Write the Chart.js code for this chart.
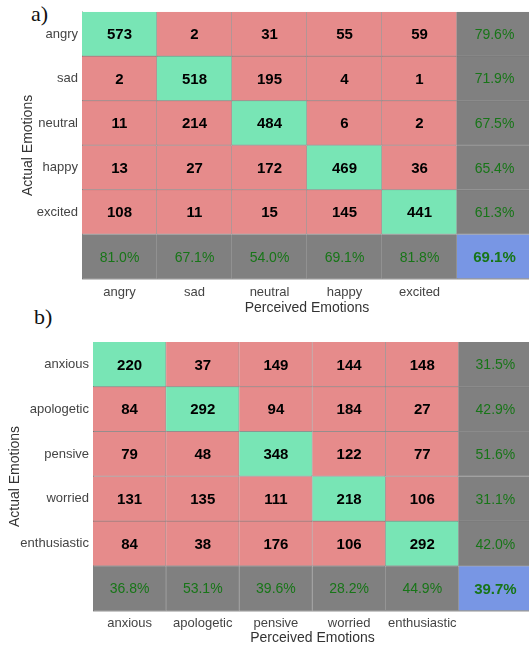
<!DOCTYPE html>
<html>
<head>
<meta charset="utf-8">
<script src="https://cdn.jsdelivr.net/npm/chart.js@4"></script>
<style>
  body { margin: 0; width: 529px; height: 650px; overflow: hidden; background: #fff; position: relative; }
  canvas { position: absolute; left: 0; }
  .tag { position: absolute; font-family: "Liberation Serif", "DejaVu Serif", serif; font-size: 22px; color: #111; }
</style>
</head>
<body>
<div class="tag" style="left:31px; top:1px;">a)</div>
<div class="tag" style="left:34px; top:304px;">b)</div>
<canvas id="chartA" width="536" height="318" style="top:0"></canvas>
<canvas id="chartB" width="536" height="332" style="top:318px"></canvas>
<script>
// ===== a) 基本感情 =====
const emotionsA = ["angry", "sad", "neutral", "happy", "excited"];
const countsA = [
  [573, 2, 31, 55, 59],
  [2, 518, 195, 4, 1],
  [11, 214, 484, 6, 2],
  [13, 27, 172, 469, 36],
  [108, 11, 15, 145, 441],
];
const rowPctA = ["79.6%", "71.9%", "67.5%", "65.4%", "61.3%"];
const colPctA = ["81.0%", "67.1%", "54.0%", "69.1%", "81.8%"];
const totalPctA = "69.1%";

// ===== b) 複合感情 =====
const emotionsB = ["anxious", "apologetic", "pensive", "worried", "enthusiastic"];
const countsB = [
  [220, 37, 149, 144, 148],
  [84, 292, 94, 184, 27],
  [79, 48, 348, 122, 77],
  [131, 135, 111, 218, 106],
  [84, 38, 176, 106, 292],
];
const rowPctB = ["31.5%", "42.9%", "51.6%", "31.1%", "42.0%"];
const colPctB = ["36.8%", "53.1%", "39.6%", "28.2%", "44.9%"];
const totalPctB = "39.7%";

const GREEN = "#78e5b5";
const RED = "#e68b8b";
const GRAY = "#808080";
const BLUE = "#7896e4";
const PCT_TEXT = "#177517";
const FONT = "'Liberation Sans', Arial, sans-serif";

// 各行を1つのdatasetとして積み上げ (値=1) し、セル内テキストを持たせる
function buildDatasets(counts, rowPct, colPct, totalPct) {
  const n = counts.length;
  const rows = counts.map((row, r) => ({
    data: Array(n + 1).fill(1),
    cellText: [...row.map(String), rowPct[r]],
    backgroundColor: [...row.map((_, c) => (c === r ? GREEN : RED)), GRAY],
  }));
  rows.push({
    data: Array(n + 1).fill(1),
    cellText: [...colPct, totalPct],
    backgroundColor: [...colPct.map(() => GRAY), BLUE],
  });
  return rows.map((ds) => ({
    ...ds,
    borderColor: "rgba(0,0,0,0.4)",
    borderWidth: { top: 0, left: 0, right: 1, bottom: 1 },
    borderSkipped: false,
    barPercentage: 1,
    categoryPercentage: 1,
  }));
}

const cellText = {
  id: "cellText",
  afterDatasetsDraw(chart) {
    const { ctx } = chart;
    const n = chart.data.datasets.length - 1;
    ctx.save();
    ctx.textAlign = "center";
    ctx.textBaseline = "middle";
    chart.data.datasets.forEach((ds, r) => {
      chart.getDatasetMeta(r).data.forEach((bar, c) => {
        const summary = r === n || c === n;
        const corner = r === n && c === n;
        ctx.font = summary && !corner ? `14px ${FONT}` : `bold 15px ${FONT}`;
        ctx.fillStyle = summary ? PCT_TEXT : "#000";
        ctx.fillText(ds.cellText[c], bar.x, (bar.y + bar.base) / 2 + 1);
      });
    });
    ctx.restore();
  },
};

function makeMatrix(canvas, labels, datasets, geo) {
  return new Chart(canvas, {
    type: "bar",
    data: { labels: [...labels, ""], datasets },
    plugins: [cellText],
    options: {
      responsive: false,
      animation: false,
      layout: { padding: { top: geo.top, right: 4, left: 0, bottom: 0 } },
      plugins: { legend: { display: false }, tooltip: { enabled: false } },
      scales: {
        x: {
          stacked: true,
          grid: { display: false, drawTicks: false },
          border: { display: true, color: "#c8c8c8" },
          ticks: { color: "#444", font: { family: FONT, size: 13 }, padding: geo.xTickPad, maxRotation: 0, autoSkip: false },
          title: {
            display: true,
            text: "Perceived Emotions",
            color: "#333",
            font: { family: FONT, size: 14 },
            padding: { top: 0, bottom: geo.xTitlePad },
          },
          afterFit: (s) => { s.height = geo.xHeight; },
        },
        y: {
          stacked: true,
          reverse: true,
          min: 0,
          max: labels.length + 1,
          grid: { display: false, drawTicks: false },
          border: { display: true, color: "#c8c8c8" },
          afterBuildTicks: (s) => { s.ticks = labels.map((_, i) => ({ value: i + 0.5 })); },
          ticks: {
            color: "#444",
            font: { family: FONT, size: 13 },
            padding: 4,
            callback: (v) => labels[Math.floor(v)],
          },
          title: {
            display: true,
            text: "Actual Emotions",
            color: "#333",
            font: { family: FONT, size: 14 },
            padding: { top: geo.yTitlePad, bottom: 0 },
          },
          afterFit: (s) => { s.width = geo.yWidth; },
        },
      },
    },
  });
}

makeMatrix(
  document.getElementById("chartA"),
  emotionsA,
  buildDatasets(countsA, rowPctA, colPctA, totalPctA),
  { top: 7, yWidth: 82, xHeight: 39, xTickPad: 6, xTitlePad: 1, yTitlePad: 20 }
);

makeMatrix(
  document.getElementById("chartB"),
  emotionsB,
  buildDatasets(countsB, rowPctB, colPctB, totalPctB),
  { top: 24, yWidth: 93, xHeight: 39, xTickPad: 5, xTitlePad: 3, yTitlePad: 7 }
);
</script>
</body>
</html>
